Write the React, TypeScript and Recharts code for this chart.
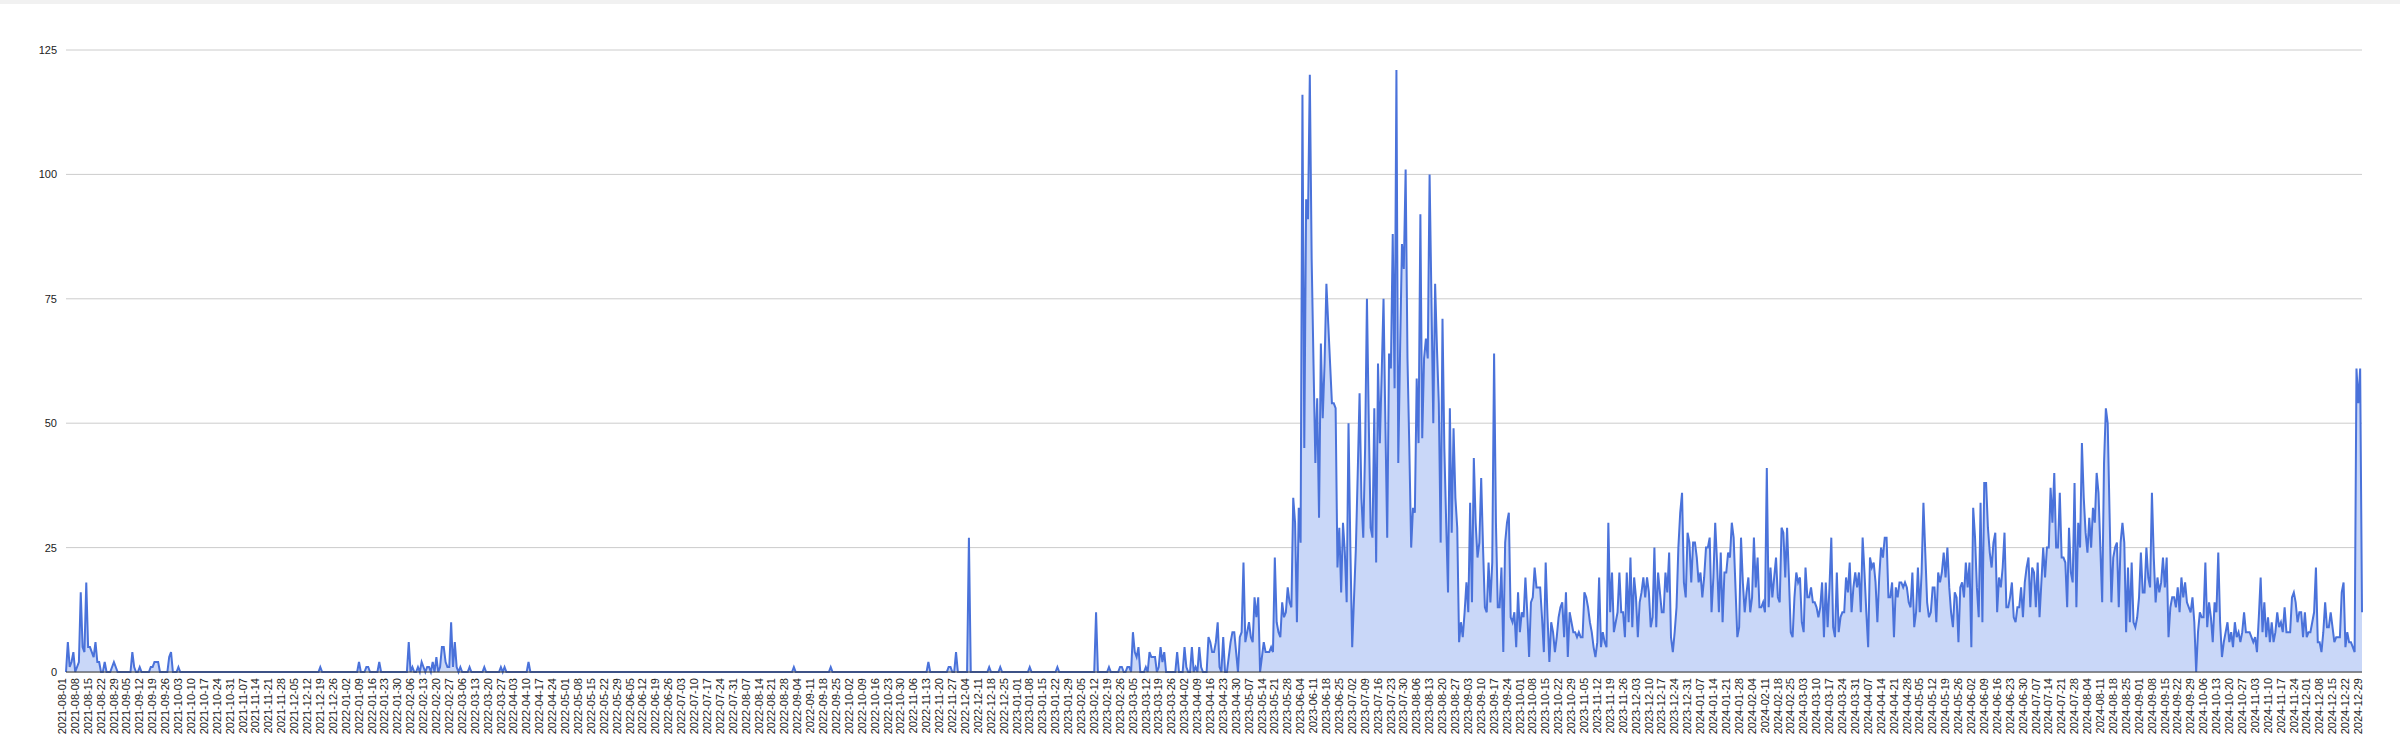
import React from "react";
import { AreaChart, Area, XAxis, YAxis, CartesianGrid } from "recharts";

// Daily values, one array per month, starting 2021-08-01
const aug21 = [0,6,1,2,4,0,1,2,16,5,4,18,5,5,4,3,6,2,2,0,0,2,0,0,0,1,2,1,0,0,0];
const sep21 = [0,0,0,0,0,4,1,0,0,1,0,0,0,0,0,1,1,2,2,2,0,0,0,0,0,3,4,0,0,0];
const oct21 = [1,0,0,0,0,0,0,0,0,0,0,0,0,0,0,0,0,0,0,0,0,0,0,0,0,0,0,0,0,0,0];
const nov21 = [0,0,0,0,0,0,0,0,0,0,0,0,0,0,0,0,0,0,0,0,0,0,0,0,0,0,0,0,0,0];
const dec21 = [0,0,0,0,0,0,0,0,0,0,0,0,0,0,0,0,1,0,0,0,0,0,0,0,0,0,0,0,0,0,0];
const jan22 = [0,0,0,0,0,0,2,0,0,0,1,1,0,0,0,0,0,2,0,0,0,0,0,0,0,0,0,0,0,0,0];
const feb22 = [0,0,6,0,1,0,0,1,0,2,1,0,1,1,0,2,0,3,0,1,5,5,2,1,1,10,1,6];
const mar22 = [1,0,1,0,0,0,0,1,0,0,0,0,0,0,0,1,0,0,0,0,0,0,0,0,1,0,1,0,0,0,0];
const apr22 = [0,0,0,0,0,0,0,0,2,0,0,0,0,0,0,0,0,0,0,0,0,0,0,0,0,0,0,0,0,0];
const may22 = [0,0,0,0,0,0,0,0,0,0,0,0,0,0,0,0,0,0,0,0,0,0,0,0,0,0,0,0,0,0,0];
const jun22 = [0,0,0,0,0,0,0,0,0,0,0,0,0,0,0,0,0,0,0,0,0,0,0,0,0,0,0,0,0,0];
const jul22 = [0,0,0,0,0,0,0,0,0,0,0,0,0,0,0,0,0,0,0,0,0,0,0,0,0,0,0,0,0,0,0];
const aug22 = [0,0,0,0,0,0,0,0,0,0,0,0,0,0,0,0,0,0,0,0,0,0,0,0,0,0,0,0,0,0,1];
const sep22 = [0,0,0,0,0,0,0,0,0,0,0,0,0,0,0,0,0,0,0,1,0,0,0,0,0,0,0,0,0,0];
const oct22 = [0,0,0,0,0,0,0,0,0,0,0,0,0,0,0,0,0,0,0,0,0,0,0,0,0,0,0,0,0,0,0];
const nov22 = [0,0,0,0,0,0,0,0,0,0,0,2,0,0,0,0,0,0,0,0,0,0,1,1,0,0,4,0,0,0];
const dec22 = [0,0,0,27,0,0,0,0,0,0,0,0,0,0,1,0,0,0,0,0,1,0,0,0,0,0,0,0,0,0,0];
const jan23 = [0,0,0,0,0,1,0,0,0,0,0,0,0,0,0,0,0,0,0,0,1,0,0,0,0,0,0,0,0,0,0];
const feb23 = [0,0,0,0,0,0,0,0,0,0,12,0,0,0,0,0,0,1,0,0,0,0,0,1,1,0,0,1];
const mar23 = [1,0,8,4,3,5,0,0,0,1,0,4,3,3,3,0,1,5,2,4,0,0,0,0,0,0,4,0,0,0,5];
const apr23 = [1,0,0,5,0,1,0,5,1,0,0,0,7,6,4,4,6,10,1,0,7,0,0,3,6,8,8,4,0,7];
const may23 = [8,22,6,8,10,7,6,15,11,15,0,3,6,4,4,4,5,4,23,10,8,7,14,11,12,17,14,13,35,30,10];
const jun23 = [33,26,116,45,95,91,120,83,62,42,55,31,66,51,62,78,70,62,54,54,53,21,29,16,30,24,14,50,25,5];
const jul23 = [15,25,40,56,35,27,45,75,50,29,27,53,22,62,46,60,75,50,27,64,61,88,57,121,42,65,86,81,101,63,45];
const aug23 = [25,33,32,59,46,92,47,63,67,63,100,75,50,78,65,54,26,71,45,30,16,53,28,49,35,29,6,10,7,12,18];
const sep23 = [12,34,14,43,30,23,26,39,25,13,12,22,14,22,64,30,13,13,21,4,26,30,32,11,10,12,5,16,8,12];
const oct23 = [11,19,12,3,14,15,21,17,17,17,11,4,22,11,2,10,8,4,7,11,13,14,7,16,3,12,10,8,8,7,8];
const nov23 = [7,7,16,15,13,10,8,5,3,6,19,5,8,6,5,30,12,20,8,10,12,20,12,12,7,20,10,23,9,19];
const dec23 = [15,7,14,16,19,15,19,16,9,11,25,9,20,16,12,12,20,16,24,7,4,8,13,25,32,36,18,15,28,26,18];
const jan24 = [26,26,23,18,20,15,19,25,25,27,12,19,30,22,12,24,10,20,20,24,23,30,27,17,7,9,27,18,12,16,19];
const feb24 = [12,15,27,17,23,13,13,14,12,41,13,21,15,19,23,15,14,29,28,19,29,19,8,7,15,20,18,19,10];
const mar24 = [8,21,15,15,17,14,14,13,11,13,18,7,18,9,17,27,9,7,20,8,11,12,12,19,16,22,12,17,20,17,20];
const apr24 = [12,27,20,12,5,23,21,22,18,10,19,25,23,27,27,15,15,18,7,17,15,18,18,17,18,17,14,13,20,9];
const may24 = [12,21,12,20,34,24,14,11,12,17,17,10,20,18,20,24,19,25,17,12,9,16,15,6,17,18,15,22,17,22,5];
const jun24 = [33,27,17,11,34,10,38,38,29,24,21,26,28,12,19,17,21,28,13,13,15,18,11,10,13,13,17,11,18,21];
const jul24 = [23,13,21,20,13,22,11,18,25,19,25,25,37,30,40,25,25,36,23,23,22,13,29,20,18,38,13,30,25,46,35];
const aug24 = [28,24,31,25,33,30,40,36,25,14,42,53,50,32,14,23,25,26,13,26,30,26,8,21,10,22,10,9,11,15,24];
const sep24 = [16,16,25,19,17,36,23,14,19,16,18,23,17,23,7,13,15,15,13,17,12,19,15,18,14,13,12,15,10,0];
const oct24 = [8,12,11,11,22,9,14,11,6,14,12,24,10,3,6,8,10,6,8,5,10,7,8,6,8,12,8,8,8,7,6];
const nov24 = [7,4,11,19,8,14,7,11,6,10,6,8,12,9,10,8,13,8,8,8,15,16,14,10,12,12,7,12,7,8];
const dec24 = [8,10,12,21,6,6,4,8,14,9,9,12,9,6,7,7,7,16,18,5,8,6,6,5,4,61,54,61,12];

const monthly = [
  aug21, sep21, oct21, nov21, dec21,
  jan22, feb22, mar22, apr22, may22, jun22, jul22, aug22, sep22, oct22, nov22, dec22,
  jan23, feb23, mar23, apr23, may23, jun23, jul23, aug23, sep23, oct23, nov23, dec23,
  jan24, feb24, mar24, apr24, may24, jun24, jul24, aug24, sep24, oct24, nov24, dec24,
];

const START_UTC = Date.UTC(2021, 7, 1);
const yTicks = [0, 25, 50, 75, 100, 125];

const pad = (n: number) => (n < 10 ? "0" + n : "" + n);
const fmt = (t: number) => {
  const d = new Date(t);
  return `${d.getUTCFullYear()}-${pad(d.getUTCMonth() + 1)}-${pad(d.getUTCDate())}`;
};

const values = monthly.flat();
const data = values.map((v, i) => ({ date: fmt(START_UTC + i * 86400000), v }));

const FONT = "'Liberation Sans', Arial, sans-serif";

const XTick = (props: any) => {
  const { x, y, payload } = props;
  const ty = y;
  return (
    <text
      x={x}
      y={ty}
      transform={`rotate(-90 ${x} ${ty})`}
      textAnchor="end"
      fill="#222"
      fontSize={11}
      fontFamily={FONT}
    >
      {payload.value}
    </text>
  );
};

const YTick = (props: any) => {
  const { x, y, payload } = props;
  return (
    <text x={x} y={y} dy={4} textAnchor="end" fill="#222" fontSize={11} fontFamily={FONT}>
      {payload.value}
    </text>
  );
};

export default function App() {
  return (
    <div style={{ position: "absolute", left: 0, top: 0, width: 2400, height: 747, background: "#fff" }}>
      <div style={{ position: "absolute", left: 0, top: 0, width: 2400, height: 4, background: "#f1f1f1" }} />
      <AreaChart
        width={2400}
        height={747}
        data={data}
        margin={{ top: 50, right: 38, bottom: 0, left: 6 }}
      >
        <CartesianGrid vertical={false} stroke="#cccccc" />
        <XAxis
          dataKey="date"
          interval={6}
          height={75}
          tickLine={false}
          tickSize={6}
          tickMargin={0}
          axisLine={{ stroke: "#333", strokeWidth: 1 }}
          tick={<XTick />}
        />
        <YAxis
          domain={[0, 125]}
          ticks={yTicks}
          width={60}
          axisLine={false}
          tickLine={false}
          tickSize={6}
          tickMargin={3}
          tick={<YTick />}
        />
        <Area
          type="linear"
          dataKey="v"
          stroke="#4a72da"
          strokeWidth={2}
          fill="#c9d7f8"
          fillOpacity={1}
          dot={false}
          activeDot={false}
          isAnimationActive={false}
        />
      </AreaChart>
    </div>
  );
}
